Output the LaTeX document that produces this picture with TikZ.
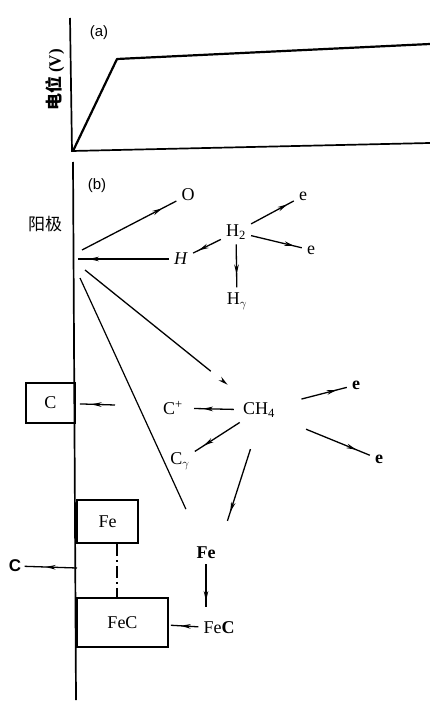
\documentclass[tikz,border=0pt]{standalone}
\usepackage{fontspec}
\setmainfont{Liberation Serif}
\setsansfont{Liberation Sans}
\newfontfamily\cjk{Noto Sans CJK SC}
\usetikzlibrary{arrows.meta,decorations.markings}
\tikzset{
  flow/.style={line width=1.3pt,postaction={decorate},
    decoration={markings,mark=at position #1 with {\arrow{Stealth[length=10pt,width=4.6pt]}}}},
  flow/.default=0.85,
  link/.style={line width=1.2pt},
  axis/.style={line width=1.7pt},
  chem/.style={inner sep=5pt,font=\fontsize{18}{20}\selectfont},
  box/.style={draw,line width=1.9pt,inner sep=0pt,font=\fontsize{18}{20}\selectfont},
  tag/.style={font=\sffamily\fontsize{15}{17}\selectfont}
}
\begin{document}
\begin{tikzpicture}[x=1pt,y=-1pt]
\useasboundingbox (0,0) rectangle (430,703);
% (a) potential
\coordinate (o) at (72,151);
\draw[axis] (70,18) -- (o) -- (430,143);
\draw[line width=2.2pt,line join=round] (73,151) -- (117,59) -- (430,44);
\node[tag] (ta) at (99,33) {(a)};
\node[rotate=90,font=\fontsize{17}{19}\selectfont\bfseries] (ylab) at (55,80) {{\cjk 电位} (V)};
% (b) reactions
\coordinate (top) at (73,162);
\coordinate (bot) at (76,700);
\draw[axis] (top) -- (bot);
\node[tag] (tb) at (97,186) {(b)};
\node[font=\fontsize{17}{19}\selectfont] (anode) at (45,224) {\cjk 阳极};
\coordinate (a1) at (82,250);
\coordinate (a2) at (78,259);
\coordinate (a3) at (85,270);
\coordinate (a4) at (80,278);
\coordinate (a5) at (77,568);
\coordinate (cp1) at (115,405);
\node[chem] (O) at (188,195) {O};
\node[chem] (H) at (181,259) {\textit{H}};
\node[chem] (H2) at (236,232) {H\textsubscript{2}};
\node[chem] (e1) at (303,196) {e};
\node[chem] (e2) at (311,250) {e};
\node[chem] (Hg) at (237,301) {H$_{\gamma}$};
\node[chem] (Cp) at (173,408) {C\textsuperscript{+}};
\node[chem] (CH4) at (259,410) {CH\textsubscript{4}};
\node[chem] (e3) at (356,385) {\textbf{e}};
\node[chem] (e4) at (379,459) {\textbf{e}};
\node[chem] (Cg) at (180,461) {C$_\gamma$};
\node[chem] (Fe) at (206,553) {\textbf{Fe}};
\node[chem] (FeCf) at (219,628) {Fe\textbf{C}};
\node[box,minimum width=49,minimum height=40] (Cbox) at (50.5,403) {C};
\node[box,minimum width=61,minimum height=43] (Febox) at (107.5,521.5) {Fe};
\node[box,minimum width=91,minimum height=49] (FeCbox) at (122.5,622.5) {FeC};
\node[font=\sffamily\bfseries\fontsize{17}{19}\selectfont] (Cout) at (15,566) {C};
% connectors
\draw[flow] (a1) -- (O);
\draw[flow=0.88] (H) -- (a2);
\draw[flow=0.8] (H2) -- (H);
\draw[flow] (H2) -- (e1);
\draw[flow] (H2) -- (e2);
\draw[flow=0.7] (H2) -- (Hg);
\draw[flow=0.9,shorten >=42pt] (a3) -- (CH4);
\draw[link,shorten >=36pt] (a4) -- (Fe);
\draw[flow=0.6,shorten >=4pt] (cp1) -- (Cbox);
\draw[flow=0.7,shorten <=4pt,shorten >=6pt] (CH4) -- (Cp);
\draw[flow=0.8] (CH4) -- (Cg);
\draw[flow,shorten <=22pt] (CH4) -- (e3);
\draw[flow,shorten <=28pt] (CH4) -- (e4);
\draw[flow=0.75,shorten <=28pt,shorten >=22pt] (CH4.south) -- (Fe.north east);
\draw[flow=0.7,shorten >=10pt] (Fe) -- (FeCf.north -| Fe);
\draw[flow=0.6,shorten >=2pt] (FeCf) -- (FeCbox);
\draw[flow=0.6] (a5) -- (Cout);
\draw[line width=1.3pt,dash pattern=on 12pt off 4pt on 2pt off 4pt] ([xshift=9.5pt]Febox.south) -- ([xshift=-5.5pt]FeCbox.north);
\end{tikzpicture}
\end{document}
